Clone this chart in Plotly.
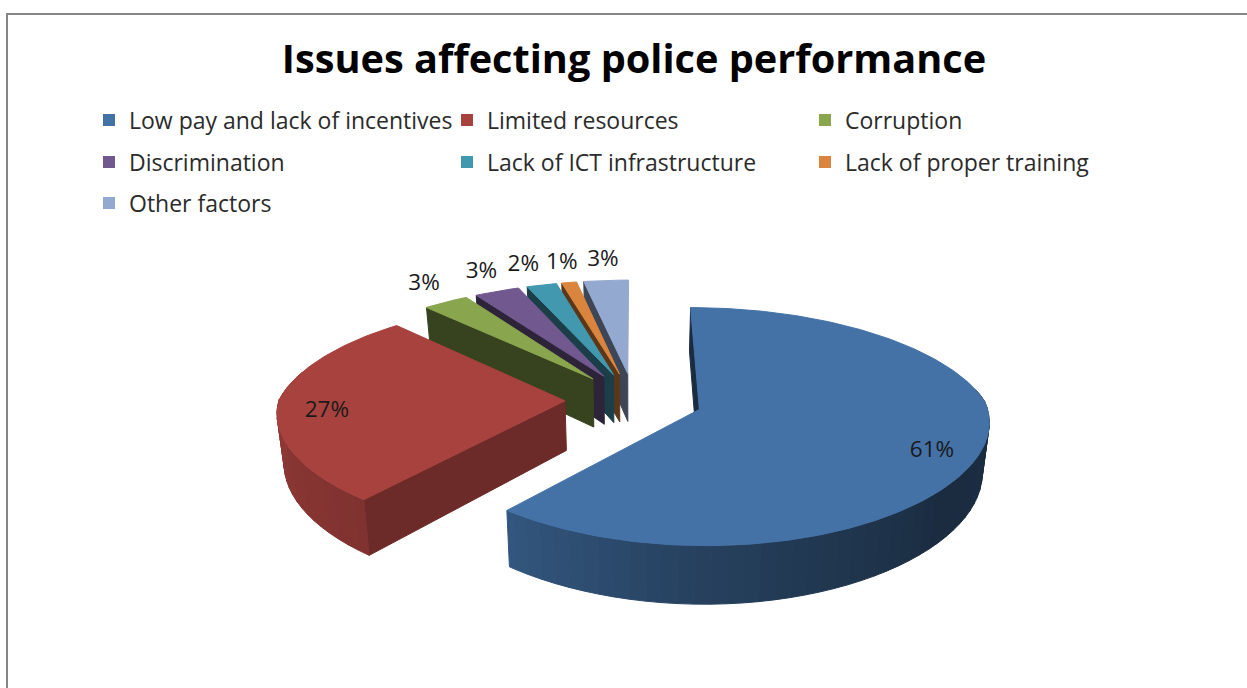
import math
import numpy as np
import plotly.graph_objects as go

# Chart content
title = "Issues affecting police performance"
categories = ["Low pay and lack of incentives", "Limited resources", "Corruption",
              "Discrimination", "Lack of ICT infrastructure", "Lack of proper training",
              "Other factors"]
shares = [61, 27, 3, 3, 2, 1, 3]
colors = ["#4472A7", "#A8423F", "#89A54E", "#71588F", "#4198AF", "#DB843D", "#93A9CF"]

# Layout of the legend rows, one legend object per row
legend_rows = [[0, 1, 2], [3, 4, 5], [6]]
legend_row_y = [120, 162, 203]

# Projection of the tilted pie onto the page, in pixels
CX, CY = 634.0, 400.0
RADIUS = 286.0
EXPLODE = 69.0
TILT = 0.398
PERSPECTIVE_Y = 0.143
PERSPECTIVE_X_FAR = 0.16
PERSPECTIVE_X_NEAR = 0.09
DEPTH = 49.5
BOTTOM_SHRINK = 0.98


def project(px, pz, floor=False):
    px_factor = PERSPECTIVE_X_FAR if pz > 0 else PERSPECTIVE_X_NEAR
    sx = 1.0 / (1.0 + px_factor * pz / RADIUS)
    sy = 1.0 / (1.0 + PERSPECTIVE_Y * pz / RADIUS)
    shrink = BOTTOM_SHRINK if floor else 1.0
    x = CX + px * sx * shrink
    y = CY - TILT * pz * sy + (DEPTH * sy if floor else 0.0)
    return x, y


def polar(angle, radius, mid):
    ox, oz = EXPLODE * math.sin(mid), EXPLODE * math.cos(mid)
    return ox + radius * math.sin(angle), oz + radius * math.cos(angle)


def shade(color, k):
    r, g, b = (int(color[i:i + 2], 16) for i in (1, 3, 5))
    return f"rgb({r * k:.0f},{g * k:.0f},{b * k:.0f})"


def rim_factor(deg):
    return float(np.interp(deg, [80, 130, 180, 220, 270], [0.39, 0.39, 0.56, 0.76, 0.85]))


def cut_factor(deg):
    return float(np.interp(deg, [0, 219.6, 316.8, 360], [0.39, 0.64, 0.40, 0.42]))


def patch(points, color):
    xs, ys = zip(*points)
    return go.Scatter(x=list(xs) + [xs[0]], y=list(ys) + [ys[0]], mode="lines", fill="toself",
                      fillcolor=color, line=dict(color=color, width=1),
                      hoverinfo="skip", showlegend=False)


fig = go.Figure()

# Angular extent of every slice, clockwise from twelve o'clock
total = sum(shares)
edges = np.cumsum([0] + shares) / total * 360.0
spans = [(edges[i], edges[i + 1]) for i in range(len(shares))]

# Far slices first so that nearer ones overlap them
paint_order = [6, 5, 4, 3, 2, 0, 1]
label_x, label_y, label_text = [None] * len(shares), [None] * len(shares), [None] * len(shares)

for i in paint_order:
    start, end = spans[i]
    mid = math.radians((start + end) / 2)
    a0 = math.radians(start)

    # Cut face along the slice's first radius
    apex = polar(a0, 0, mid)
    rim = polar(a0, RADIUS, mid)
    fig.add_trace(patch([project(*apex), project(*rim), project(*rim, floor=True),
                         project(*apex, floor=True)], shade(colors[i], cut_factor(start))))

    # Curved outer wall, only where it faces the viewer
    lo, hi = max(start, 80.0), min(end, 285.0)
    if hi > lo:
        steps = np.arange(lo, hi + 3.0, 3.0)
        for d0, d1 in zip(steps[:-1], steps[1:]):
            d1 = min(d1, hi)
            p0 = polar(math.radians(d0), RADIUS, mid)
            p1 = polar(math.radians(d1), RADIUS, mid)
            fig.add_trace(patch([project(*p0), project(*p1), project(*p1, floor=True),
                                 project(*p0, floor=True)],
                                shade(colors[i], rim_factor((d0 + d1) / 2))))

    # Top surface
    arc = [project(*polar(math.radians(d), RADIUS, mid))
           for d in np.linspace(start, end, max(4, int(end - start) + 1))]
    fig.add_trace(patch([project(*apex)] + arc, colors[i]))

    # Percentage label: inside for the large slices, beyond the rim for the small ones
    large = shares[i] >= 10
    lx, ly = project(*polar(mid, RADIUS * (0.83 if large else 1.17), mid))
    # The two narrowest neighbours would touch, so the wider one steps aside
    if shares[i] == 2:
        lx -= 8
    label_x[i], label_y[i] = lx, ly + (8 if large else -6)
    label_text[i] = f"{shares[i]}%"

fig.add_trace(go.Scatter(x=label_x, y=label_y, text=label_text, mode="text",
                         textfont=dict(family="Open Sans", size=22.5, color="#1a1a1a"),
                         hoverinfo="skip", showlegend=False))

# Legend keys, split over three one-row legends
legend_ids = ["legend", "legend2", "legend3"]
for row, legend_id in zip(legend_rows, legend_ids):
    for i in row:
        fig.add_trace(go.Scatter(x=[None], y=[None], mode="markers", name=categories[i],
                                 marker=dict(symbol="square", size=12, color=colors[i]),
                                 legend=legend_id, hoverinfo="skip"))

legend_common = dict(orientation="h", x=89 / 1247, xanchor="left", yanchor="middle",
                     bgcolor="rgba(0,0,0,0)", borderwidth=0, entrywidth=313,
                     entrywidthmode="pixels", itemclick=False, itemdoubleclick=False,
                     font=dict(family="Open Sans", size=23, color="#2b2b2b"))

fig.update_layout(
    width=1247, height=688, margin=dict(l=0, r=0, t=0, b=0),
    paper_bgcolor="white", plot_bgcolor="white",
    title=dict(text=f"<b>{title}</b>", x=634 / 1247, xanchor="center", y=1 - 59 / 688,
               yanchor="middle", font=dict(family="Open Sans", size=39.7, color="black")),
    xaxis=dict(range=[0, 1247], visible=False, fixedrange=True),
    yaxis=dict(range=[688, 0], visible=False, fixedrange=True),
    legend=dict(y=1 - legend_row_y[0] / 688, **legend_common),
    legend2=dict(y=1 - legend_row_y[1] / 688, **legend_common),
    legend3=dict(y=1 - legend_row_y[2] / 688, **legend_common),
    # Chart frame along the top and left
    shapes=[dict(type="line", xref="x", yref="y", x0=7, y0=14, x1=1247, y1=14,
                 line=dict(color="#868686", width=2)),
            dict(type="line", xref="x", yref="y", x0=7, y0=13, x1=7, y1=688,
                 line=dict(color="#868686", width=2))],
)

fig.write_html("out.html", config={"displayModeBar": False})
